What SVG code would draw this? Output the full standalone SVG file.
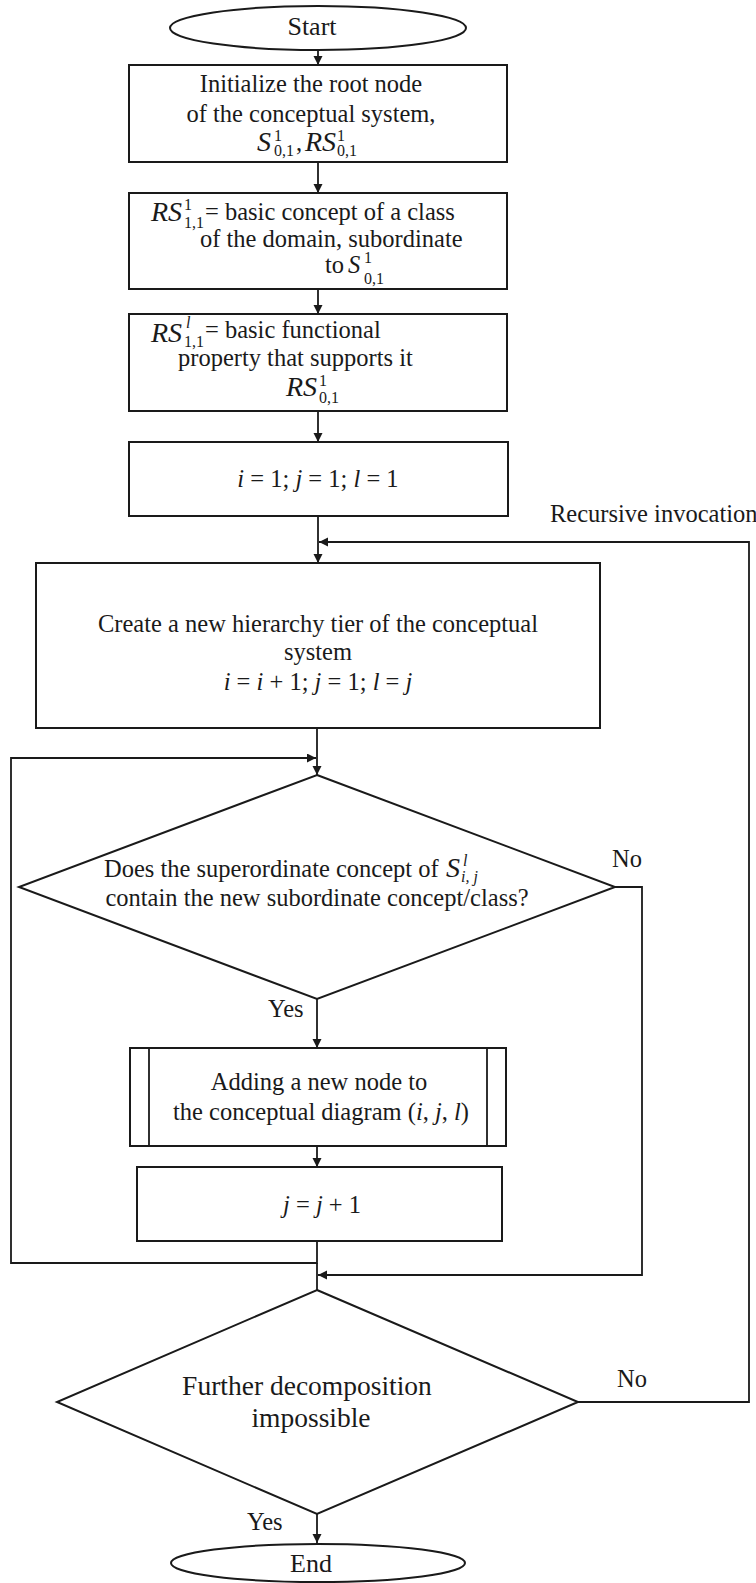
<svg xmlns="http://www.w3.org/2000/svg" width="756" height="1583" viewBox="0 0 756 1583">
<defs>
<marker id="arr" markerUnits="userSpaceOnUse" markerWidth="10" markerHeight="10" refX="9" refY="4.5" orient="auto">
<path d="M0,0 L9,4.5 L0,9 z" fill="#1a1a1a"/>
</marker>
</defs>
<style>
text{font-family:"Liberation Serif","Times New Roman",serif;font-size:24.5px;fill:#1a1a1a}
.c{text-anchor:middle}
.it{font-style:italic}
.m{font-style:italic;font-size:28px}
.s{font-size:16px}
.big{font-size:27.5px}
.term{font-size:26px}
.n{fill:#fff;stroke:#1a1a1a;stroke-width:2}
.e{fill:none;stroke:#1a1a1a;stroke-width:1.8}
.a{fill:none;stroke:#1a1a1a;stroke-width:1.8;marker-end:url(#arr)}
</style>
<rect width="756" height="1583" fill="#fff"/>

<g id="connectors">
<line class="a" x1="318" y1="50" x2="318" y2="65"/>
<line class="a" x1="318" y1="162" x2="318" y2="193"/>
<line class="a" x1="318" y1="289" x2="318" y2="314"/>
<line class="a" x1="318" y1="411" x2="318" y2="442"/>
<line class="a" x1="318" y1="516" x2="318" y2="563"/>
<polyline class="a" points="578,1402 749,1402 749,542 319,542"/>
<line class="a" x1="317" y1="728" x2="317" y2="775"/>
<polyline class="a" points="317,1241 317,1263 11,1263 11,758 316,758"/>
<line class="a" x1="317" y1="999" x2="317" y2="1048"/>
<line class="a" x1="317" y1="1146" x2="317" y2="1167"/>
<polyline class="a" points="615,887 642,887 642,1275 318,1275"/>
<line class="e" x1="317" y1="1263" x2="317" y2="1290"/>
<line class="a" x1="317" y1="1514" x2="317" y2="1543"/>
<text x="550" y="522" font-size="24">Recursive invocation</text>
<text x="612" y="867">No</text>
<text x="268" y="1017">Yes</text>
<text x="617" y="1387">No</text>
<text x="247" y="1530">Yes</text>
</g>

<g id="start">
<ellipse class="n" cx="318" cy="28" rx="148" ry="22"/>
<text class="c term" x="312" y="35">Start</text>
</g>

<g id="init">
<rect class="n" x="129" y="65" width="378" height="97"/>
<text class="c" x="311" y="92" font-size="25.5">Initialize the root node</text>
<text class="c" x="311" y="122" font-size="25.5">of the conceptual system,</text>
<text class="m" x="257" y="151">S</text>
<text class="s" x="274" y="141">1</text>
<text class="s" x="274" y="156">0,1</text>
<text x="296" y="151">,</text>
<text class="m" x="305" y="151">RS</text>
<text class="s" x="337" y="141">1</text>
<text class="s" x="337" y="156">0,1</text>
</g>

<g id="basic-concept">
<rect class="n" x="129" y="193" width="378" height="96"/>
<text class="m" x="151" y="221">RS</text>
<text class="s" x="184" y="210">1</text>
<text class="s" x="184" y="228" font-size="15">1,1</text>
<text x="205" y="220">= basic concept of a class</text>
<text x="200" y="247">of the domain, subordinate</text>
<text x="325" y="273">to</text>
<text class="it" x="348" y="273" font-size="26">S</text>
<text class="s" x="364" y="263">1</text>
<text class="s" x="364" y="284">0,1</text>
</g>

<g id="basic-property">
<rect class="n" x="129" y="314" width="378" height="97"/>
<text class="m" x="151" y="342">RS</text>
<text class="s it" x="186" y="328">l</text>
<text class="s" x="184" y="347" font-size="15">1,1</text>
<text x="205" y="338">= basic functional</text>
<text x="178" y="366">property that supports it</text>
<text class="m" x="286" y="396">RS</text>
<text class="s" x="319" y="386">1</text>
<text class="s" x="319" y="403">0,1</text>
</g>

<g id="init-indices">
<rect class="n" x="129" y="442" width="379" height="74"/>
<text class="c" x="318" y="487"><tspan class="it">i</tspan> = 1; <tspan class="it">j</tspan> = 1; <tspan class="it">l</tspan> = 1</text>
</g>

<g id="new-tier">
<rect class="n" x="36" y="563" width="564" height="165"/>
<text class="c" x="318" y="632">Create a new hierarchy tier of the conceptual</text>
<text class="c" x="318" y="660">system</text>
<text class="c" x="318" y="690"><tspan class="it">i</tspan> = <tspan class="it">i</tspan> + 1; <tspan class="it">j</tspan> = 1; <tspan class="it">l</tspan> = <tspan class="it">j</tspan></text>
</g>

<g id="decision-contain">
<polygon class="n" points="317,775 615,887 317,999 19,887"/>
<text x="104" y="877">Does the superordinate concept of</text>
<text class="m" x="446" y="877">S</text>
<text class="s it" x="463" y="866">l</text>
<text class="s it" x="461" y="882">i, j</text>
<text class="c" x="317" y="906">contain the new subordinate concept/class?</text>
</g>

<g id="add-node">
<rect class="n" x="130" y="1048" width="376" height="98"/>
<line class="e" x1="149" y1="1048" x2="149" y2="1146"/>
<line class="e" x1="487" y1="1048" x2="487" y2="1146"/>
<text class="c" x="319" y="1090">Adding a new node to</text>
<text class="c" x="321" y="1120">the conceptual diagram (<tspan class="it">i</tspan>, <tspan class="it">j</tspan>, <tspan class="it">l</tspan>)</text>
</g>

<g id="increment-j">
<rect class="n" x="137" y="1167" width="365" height="74"/>
<text class="c" x="322" y="1213"><tspan class="it">j</tspan> = <tspan class="it">j</tspan> + 1</text>
</g>

<g id="decision-further">
<polygon class="n" points="317,1290 578,1402 317,1514 57,1402"/>
<text class="c big" x="307" y="1395">Further decomposition</text>
<text class="c big" x="311" y="1427">impossible</text>
</g>

<g id="end">
<ellipse class="n" cx="318" cy="1563" rx="147" ry="19"/>
<text class="c term" x="311" y="1572">End</text>
</g>
</svg>
